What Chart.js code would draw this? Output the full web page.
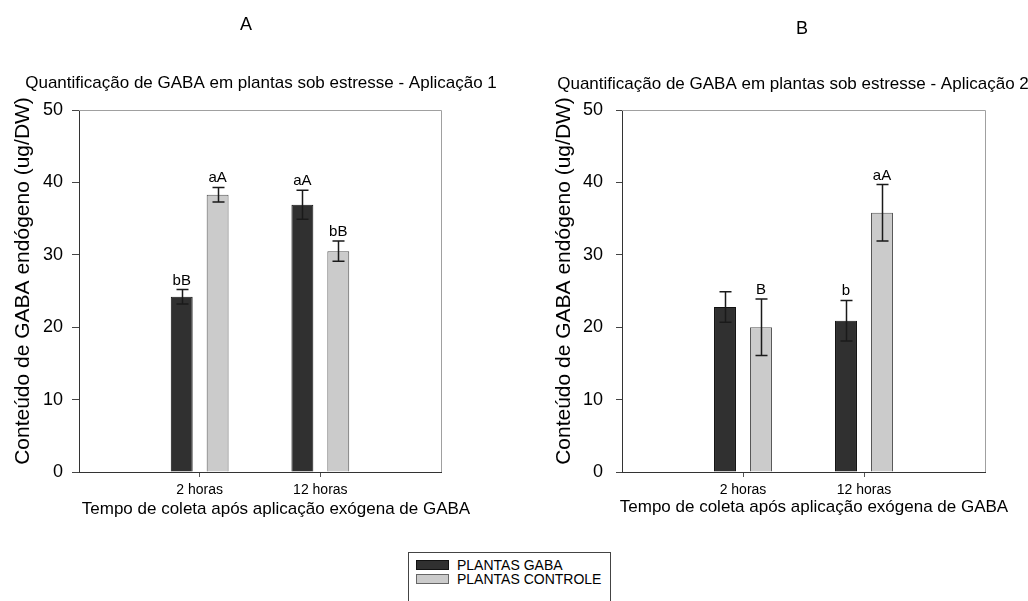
<!DOCTYPE html>
<html lang="pt-BR">
<head>
<meta charset="utf-8">
<title>Quantificação de GABA em plantas sob estresse</title>
<script src="https://cdn.jsdelivr.net/npm/chart.js@4.4.1/dist/chart.umd.min.js"></script>
<style>
  body { margin: 0; background: #fff; width: 1028px; height: 601px; overflow: hidden; position: relative;
         font-family: "Liberation Sans", Arial, sans-serif; }
  canvas { position: absolute; top: 0; }
  #graficoA { left: 0; }
  #graficoB { left: 514px; }
  #legenda { position: absolute; left: 408px; top: 552px; width: 201px; height: 70px;
             border: 1px solid #444; background: #fff; }
  .item { position: absolute; left: 7px; height: 14px; font-size: 14px; line-height: 14px; color: #000; }
  .item span { position: absolute; left: 0; top: 2px; width: 33px; height: 10px; box-sizing: border-box; }
  .item b { position: absolute; left: 41px; top: 0; font-weight: normal; white-space: nowrap; }
</style>
</head>
<body>
<canvas id="graficoA" width="514" height="601"></canvas>
<canvas id="graficoB" width="514" height="601"></canvas>
<div id="legenda">
  <div class="item" style="top:5px"><span style="background:#303030;border:1px solid #111"></span><b>PLANTAS GABA</b></div>
  <div class="item" style="top:19px"><span style="background:#cbcbcb;border:1px solid #666"></span><b>PLANTAS CONTROLE</b></div>
</div>
<script>
// dados
const horas = ['2 horas', '12 horas']
const ticksY = [0, 10, 20, 30, 40, 50]

const gabaA = [24.2, 36.9]
const gabaAErro = [1.0, 2.0]
const gabaALetras = ['bB', 'aA']
const controleA = [38.3, 30.5]
const controleAErro = [1.0, 1.4]
const controleALetras = ['aA', 'bB']

const gabaB = [22.8, 20.9]
const gabaBErro = [2.1, 2.8]
const gabaBLetras = ['', 'b']
const controleB = [20.0, 35.8]
const controleBErro = [3.9, 3.9]
const controleBLetras = ['B', 'aA']

const fonte = "'Liberation Sans', Arial, sans-serif"
const tituloY = 'Conteúdo de GABA endógeno (ug/DW)'
const tituloX = 'Tempo de coleta após aplicação exógena de GABA'

// categorias vazias nas pontas para deixar espaço igual ao do original
const comBorda = (lista, vazio) => [vazio, ...lista, vazio]

const pluginMoldura = {
    id: 'moldura',
    afterDraw(chart) {
        const {ctx, chartArea: a} = chart
        ctx.save()
        ctx.strokeStyle = '#a0a0a0'
        ctx.lineWidth = 1
        ctx.beginPath()
        ctx.moveTo(a.left, a.top + 0.5)
        ctx.lineTo(a.right + 0.5, a.top + 0.5)
        ctx.lineTo(a.right + 0.5, a.bottom)
        ctx.stroke()
        ctx.restore()
    }
}

const pluginErros = {
    id: 'barrasErro',
    afterDatasetsDraw(chart) {
        const {ctx} = chart
        const escalaY = chart.scales.y
        chart.data.datasets.forEach((ds, i) => {
            const meta = chart.getDatasetMeta(i)
            meta.data.forEach((barra, j) => {
                const valor = ds.data[j]
                if( valor == null ){
                    return
                }
                const erro = ds.erros[j]
                const yAlto = escalaY.getPixelForValue(valor + erro)
                const yBaixo = escalaY.getPixelForValue(valor - erro)
                const x = Math.round(barra.x) + 0.5
                ctx.save()
                ctx.strokeStyle = '#1a1a1a'
                ctx.lineWidth = 1.5
                ctx.beginPath()
                ctx.moveTo(x, yAlto)
                ctx.lineTo(x, yBaixo)
                ctx.moveTo(x - 6, yAlto)
                ctx.lineTo(x + 6, yAlto)
                ctx.moveTo(x - 6, yBaixo)
                ctx.lineTo(x + 6, yBaixo)
                ctx.stroke()
                if( ds.letras[j] ){
                    ctx.fillStyle = '#000'
                    ctx.font = '15px ' + fonte
                    ctx.textAlign = 'center'
                    ctx.textBaseline = 'alphabetic'
                    ctx.fillText(ds.letras[j], barra.x, yAlto - 5)
                }
                ctx.restore()
            })
        })
    }
}

const pluginTextos = {
    id: 'textos',
    afterDraw(chart, args, opcoes) {
        const {ctx} = chart
        opcoes.itens.forEach(t => {
            ctx.save()
            ctx.font = t.tamanho + 'px ' + fonte
            ctx.fillStyle = '#000'
            ctx.textAlign = 'center'
            ctx.textBaseline = 'alphabetic'
            ctx.translate(t.x, t.y)
            if( t.rotacao ){
                ctx.rotate(t.rotacao)
            }
            ctx.fillText(t.texto, 0, 0)
            ctx.restore()
        })
    }
}

class GraficoGaba {
    constructor(idCanvas, dados, layout){
        this.grafico = null
        this.idCanvas = idCanvas
        this.dados = dados
        this.layout = layout
    }

    obterConfiguracao(){
        const d = this.dados
        const l = this.layout
        return {
            type: 'bar',
            data: {
                labels: comBorda(horas, ''),
                datasets: [{
                    label: 'PLANTAS GABA',
                    data: comBorda(d.gaba, null),
                    erros: comBorda(d.gabaErro, 0),
                    letras: comBorda(d.gabaLetras, ''),
                    backgroundColor: '#303030',
                    borderColor: '#111',
                    borderWidth: 1
                }, {
                    label: 'PLANTAS CONTROLE',
                    data: comBorda(d.controle, null),
                    erros: comBorda(d.controleErro, 0),
                    letras: comBorda(d.controleLetras, ''),
                    backgroundColor: '#cbcbcb',
                    borderColor: '#555',
                    borderWidth: 1
                }]
            },
            options: {
                responsive: false,
                animation: false,
                categoryPercentage: 0.595,
                barPercentage: 0.61,
                layout: { padding: { top: 110, right: l.direita, left: 0, bottom: 0 } },
                scales: {
                    x: {
                        type: 'category',
                        offset: false,
                        afterFit: escala => { escala.height = 129 },
                        grid: {
                            offset: false,
                            drawOnChartArea: false,
                            tickLength: 5,
                            color: c => (c.index == 1 || c.index == 2) ? '#555' : 'rgba(0,0,0,0)'
                        },
                        border: { color: '#333', width: 1 },
                        ticks: {
                            autoSkip: false, maxRotation: 0, padding: 5, color: '#000',
                            font: { family: fonte, size: 14 }
                        }
                    },
                    y: {
                        min: 0,
                        max: 50,
                        afterFit: escala => { escala.width = l.larguraY },
                        afterBuildTicks: escala => { escala.ticks = ticksY.map(v => ({value: v})) },
                        grid: { drawOnChartArea: false, tickLength: l.tickY, color: '#444' },
                        border: { color: '#333', width: 1 },
                        ticks: { padding: l.padY, color: '#000', font: { family: fonte, size: 18 } }
                    }
                },
                plugins: {
                    legend: { display: false },
                    tooltip: { enabled: false },
                    title: { display: false },
                    textos: { itens: l.textos }
                }
            },
            plugins: [pluginMoldura, pluginErros, pluginTextos]
        }
    }

    plotarGrafico(){
        if( this.grafico != null ){
            this.grafico.destroy()
        }
        const canvas = document.getElementById(this.idCanvas)
        this.grafico = new Chart(canvas, this.obterConfiguracao())
    }
}

const graficoA = new GraficoGaba('graficoA', {
    gaba: gabaA, gabaErro: gabaAErro, gabaLetras: gabaALetras,
    controle: controleA, controleErro: controleAErro, controleLetras: controleALetras
}, {
    direita: 73, larguraY: 79, tickY: 7, padY: 9,
    textos: [
        { texto: 'A', x: 246, y: 30, tamanho: 18 },
        { texto: 'Quantificação de GABA em plantas sob estresse - Aplicação 1', x: 261, y: 88, tamanho: 17 },
        { texto: tituloX, x: 276, y: 514, tamanho: 17 },
        { texto: tituloY, x: 29, y: 281, tamanho: 21, rotacao: -Math.PI / 2 }
    ]
})
graficoA.plotarGrafico()

const graficoB = new GraficoGaba('graficoB', {
    gaba: gabaB, gabaErro: gabaBErro, gabaLetras: gabaBLetras,
    controle: controleB, controleErro: controleBErro, controleLetras: controleBLetras
}, {
    direita: 43, larguraY: 108, tickY: 6, padY: 13,
    textos: [
        { texto: 'B', x: 802 - 514, y: 34, tamanho: 18 },
        { texto: 'Quantificação de GABA em plantas sob estresse - Aplicação 2', x: 793 - 514, y: 89, tamanho: 17 },
        { texto: tituloX, x: 814 - 514, y: 512, tamanho: 17 },
        { texto: tituloY, x: 570 - 514, y: 281, tamanho: 21, rotacao: -Math.PI / 2 }
    ]
})
graficoB.plotarGrafico()
</script>
</body>
</html>
